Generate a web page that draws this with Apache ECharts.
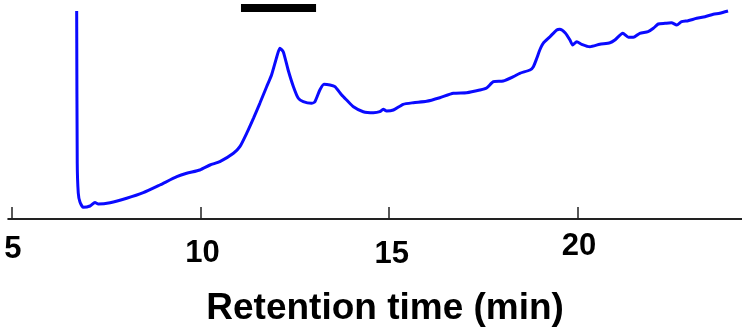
<!DOCTYPE html>
<html>
<head>
<meta charset="utf-8">
<script src="https://cdn.jsdelivr.net/npm/echarts@6/dist/echarts.min.js"></script>
<style>html,body{margin:0;padding:0;background:#fff}#c{width:742px;height:327px}</style>
</head>
<body>
<div id="c"></div>
<script>
// Retention time (min)
var times = [6.715,6.73,6.757,6.80,6.89,7.07,7.20,7.29,7.60,8.04,8.48,8.92,9.37,9.63,9.98,10.25,10.51,10.87,11.04,11.22,11.40,11.57,11.75,11.88,12.02,12.10,12.19,12.32,12.46,12.59,12.72,12.94,13.03,13.16,13.27,13.43,13.56,13.74,13.87,14.05,14.31,14.58,14.75,14.84,14.93,15.11,15.37,15.64,15.99,16.34,16.70,17.05,17.40,17.58,17.76,18.02,18.29,18.46,18.73,18.82,18.91,18.99,19.08,19.26,19.44,19.52,19.66,19.79,19.86,19.97,20.10,20.32,20.58,20.85,20.98,21.19,21.34,21.47,21.64,21.86,22.00,22.13,22.31,22.48,22.62,22.75,22.92,23.15,23.37,23.59,23.76,23.98];
// Detector signal (arbitrary units)
var signal = [208,56,26,17.3,11.7,13,16.5,15,16.3,20.7,26.3,34,42.3,45.7,49,54,57.3,65.7,72.3,85.7,100.7,115.7,132.3,144,162.3,170.7,167.3,149,132.3,120.7,117.3,115.7,117.3,129,134.7,134,132.3,124,119,112.3,107.3,106.3,107.3,109.7,108,109,114.7,116.3,117.7,121.3,125.7,126.3,129,131,137.3,138,142.3,145.7,149,152.3,160.7,169,175.7,182.3,189,189.7,186.3,179,174,177.3,174.7,172.3,174.7,176.3,179,185.7,181.7,181.7,185.7,187.3,190.7,195,195.7,196.3,194,197.3,198.3,200.7,202.3,204.7,205.7,208];
// Collected fraction bar
var fractionStart = 11.07, fractionEnd = 13.06, fractionLevel = 211;
var tickValues = [5, 10, 15, 20];
var axisTitle = 'Retention time (min)';

var pts = times.map(function (t, i) { return [t, signal[i]]; });
var labelLH = {5: 60, 10: 68, 15: 70, 20: 54};
var labelShift = {5: 2, 10: 4, 15: 5, 20: 2};
var rich = {};
tickValues.forEach(function (v) {
  rich['t' + v] = {fontSize: 31, fontWeight: 'bold', fontFamily: 'Liberation Sans, Arial, sans-serif', color: '#000', lineHeight: labelLH[v], padding: [0, 0, 0, labelShift[v]]};
});

var chart = echarts.init(document.getElementById('c'), null, {renderer: 'canvas'});
chart.setOption({
  animation: false,
  backgroundColor: '#fff',
  grid: {left: 8.2, right: 0, top: 0, bottom: 108, containLabel: false, outerBoundsMode: 'none'},
  xAxis: {
    type: 'value', min: 4.9, max: 24.35,
    axisLine: {show: true, onZero: false, lineStyle: {color: '#222', width: 2}},
    axisTick: {show: true, inside: true, length: 12, customValues: tickValues, lineStyle: {color: '#222', width: 1.5}},
    axisLabel: {show: true, margin: 0, customValues: tickValues,
      formatter: function (v) { return '{t' + v + '|' + v + '}'; }, rich: rich},
    splitLine: {show: false},
    name: axisTitle, nameLocation: 'middle', nameGap: 71, nameMoveOverlap: false,
    nameTextStyle: {fontSize: 37, fontWeight: 'bold', fontFamily: 'Liberation Sans, Arial, sans-serif', color: '#000', padding: [0, 0, 0, 20]}
  },
  yAxis: {type: 'value', min: 0, max: 219, show: false, splitLine: {show: false}},
  series: [
    {type: 'line', data: pts, symbol: 'none', smooth: 0.2, lineStyle: {color: '#0a0aff', width: 3}, z: 3},
    {type: 'line', data: [[fractionStart, fractionLevel], [fractionEnd, fractionLevel]], symbol: 'none', lineStyle: {color: '#000', width: 8, cap: 'butt'}, z: 4}
  ]
});
</script>
</body>
</html>
